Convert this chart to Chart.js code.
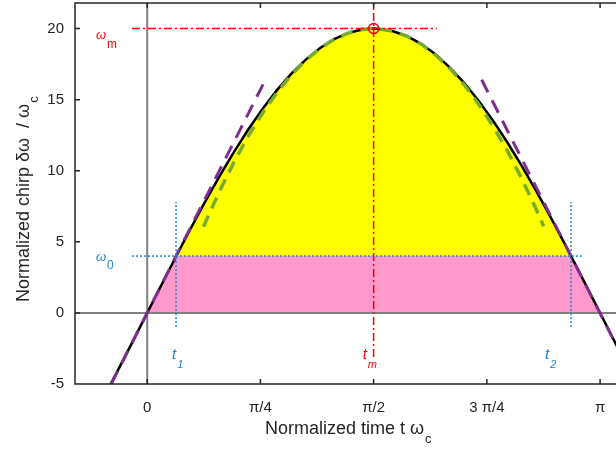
<!DOCTYPE html>
<html>
<head>
<meta charset="utf-8">
<script src="https://cdn.jsdelivr.net/npm/chart.js@4/dist/chart.umd.min.js"></script>
<style>
  html, body { margin: 0; padding: 0; background: #fff; overflow: hidden; }
  #wrap { width: 616px; height: 450px; }
</style>
</head>
<body>
<div id="wrap"><canvas id="chirpChart"></canvas></div>
<script>
// chirp curve
const curveX = [-0.3, -0.2, -0.1, 0, 0.1, 0.2, 0.3, 0.4, 0.5, 0.6, 0.7, 0.8, 0.9, 1.0, 1.1, 1.2, 1.3, 1.4, 1.5, 1.571,
  1.6, 1.7, 1.8, 1.9, 2.0, 2.1, 2.2, 2.3, 2.4, 2.5, 2.6, 2.7, 2.8, 2.9, 3.0, 3.1, 3.2, 3.3];
const curveY = [-5.91, -3.97, -2.0, 0, 2.0, 3.97, 5.91, 7.79, 9.59, 11.29, 12.88, 14.35, 15.67, 16.83, 17.82, 18.64, 19.27, 19.71, 19.95, 20,
  19.99, 19.83, 19.48, 18.93, 18.19, 17.26, 16.17, 14.91, 13.51, 11.97, 10.31, 8.55, 6.70, 4.79, 2.82, 0.83, -1.17, -3.16];

// yellow area above omega0
const yellowX = [0.2, 0.3, 0.4, 0.5, 0.6, 0.7, 0.8, 0.9, 1.0, 1.1, 1.2, 1.3, 1.4, 1.5, 1.571,
  1.6, 1.7, 1.8, 1.9, 2.0, 2.1, 2.2, 2.3, 2.4, 2.5, 2.6, 2.7, 2.8, 2.9, 2.94];
const yellowY = [4.0, 5.91, 7.79, 9.59, 11.29, 12.88, 14.35, 15.67, 16.83, 17.82, 18.64, 19.27, 19.71, 19.95, 20,
  19.99, 19.83, 19.48, 18.93, 18.19, 17.26, 16.17, 14.91, 13.51, 11.97, 10.31, 8.55, 6.70, 4.79, 4.0];

// pink area below omega0
const pinkX = [0, 0.2, 2.94, 3.1416];
const pinkY = [0, 4, 4, 0];

// green parabola approximation near the top
const greenX = [0.39, 0.5, 0.6, 0.7, 0.8, 0.9, 1.0, 1.1, 1.2, 1.3, 1.4, 1.5, 1.571,
  1.6, 1.7, 1.8, 1.9, 2.0, 2.1, 2.2, 2.3, 2.4, 2.5, 2.6, 2.7, 2.75];
const greenY = [6.06, 8.53, 10.57, 12.42, 14.06, 15.50, 16.74, 17.78, 18.63, 19.27, 19.71, 19.95, 20,
  19.99, 19.83, 19.48, 18.92, 18.16, 17.20, 16.04, 14.68, 13.12, 11.37, 9.41, 7.25, 6.10];

// purple linear approximations
const purpleLeftX = [-0.25, 0.82];
const purpleLeftY = [-5.0, 16.4];
const purpleRightX = [2.32, 3.4];
const purpleRightY = [16.4, -5.2];

// marker lines
const omegaM = 20, tm = 1.5708;
const omegaMLineX = [-0.106, 2.01];
const tmLineY = [-3.1, 22];
const omega0 = 4, t1 = 0.2, t2 = 2.94;
const omega0LineX = [-0.106, 3.014];
const tLineY = [-1.0, 7.8];

// axes
const xTickVals = [0, 0.7854, 1.5708, 2.3562, 3.1416];
const xTickLabels = ["0", "π/4", "π/2", "3 π/4", "π"];
const yTickVals = [-5, 0, 5, 10, 15, 20];
const xMin = -0.501, xMax = 3.252, yMin = -5, yMax = 21.8;

const pts = (xs, ys) => xs.map((x, i) => ({ x: x, y: ys[i] }));
const FONT = "'Liberation Sans', Arial, sans-serif";
const BLUE = "#1f80d0", RED = "#ff0000", PURPLE = "#7e2f8e", GREEN = "#77ac30";

function lineDs(data, color, width, dash, order) {
  return { data: data, borderColor: color, borderWidth: width, borderDash: dash, pointRadius: 0,
    fill: false, tension: 0, order: order };
}

const decorPlugin = {
  id: "decor",
  afterDraw(chart) {
    const ctx = chart.ctx, a = chart.chartArea;
    const xs = chart.scales.x, ys = chart.scales.y;
    ctx.save();
    // box + inward ticks
    ctx.strokeStyle = "#262626";
    ctx.lineWidth = 1.5;
    ctx.beginPath();
    ctx.moveTo(a.right + 2, a.top); ctx.lineTo(a.left, a.top);
    ctx.lineTo(a.left, a.bottom); ctx.lineTo(a.right + 2, a.bottom);
    xTickVals.forEach(v => {
      const p = xs.getPixelForValue(v);
      ctx.moveTo(p, a.bottom); ctx.lineTo(p, a.bottom - 5);
      ctx.moveTo(p, a.top); ctx.lineTo(p, a.top + 5);
    });
    yTickVals.forEach(v => {
      const p = ys.getPixelForValue(v);
      ctx.moveTo(a.left, p); ctx.lineTo(a.left + 5, p);
    });
    ctx.stroke();

    const sub = (main, s, x, y, color, mf, sf, dy) => {
      ctx.fillStyle = color;
      ctx.textAlign = "left";
      ctx.textBaseline = "middle";
      ctx.font = mf;
      ctx.fillText(main, x, y);
      const w = ctx.measureText(main).width;
      ctx.font = sf;
      ctx.fillText(s, x + w + 1, y + dy);
    };
    // annotations
    sub("ω", "m", a.left + 21, ys.getPixelForValue(omegaM) + 7, RED, "italic 13px " + FONT, "12px " + FONT, 9);
    sub("ω", "0", a.left + 21, ys.getPixelForValue(omega0) + 1, BLUE, "italic 13px " + FONT, "12px " + FONT, 9);
    const ty = a.bottom - 29;
    sub("t", "1", xs.getPixelForValue(t1) - 4, ty, BLUE, "italic 15px " + FONT, "italic 11px " + FONT, 10);
    sub("t", "m", xs.getPixelForValue(tm) - 11, ty, RED, "italic 15px " + FONT, "italic 11px " + FONT, 10);
    sub("t", "2", xs.getPixelForValue(t2) - 26, ty, BLUE, "italic 15px " + FONT, "italic 11px " + FONT, 10);

    // axis titles
    sub("Normalized time t ω", "c", 265, 429, "#262626", "18px " + FONT, "13px " + FONT, 10);
    ctx.translate(24, 302);
    ctx.rotate(-Math.PI / 2);
    sub("Normalized chirp δω  / ω", "c", 0, 0, "#262626", "18px " + FONT, "13px " + FONT, 10);
    ctx.restore();
  }
};

new Chart(document.getElementById("chirpChart"), {
  type: "line",
  data: {
    datasets: [
      { data: [{ x: tm, y: omegaM }], showLine: false, pointRadius: 5, pointStyle: "circle",
        pointBorderColor: RED, pointBackgroundColor: "rgba(0,0,0,0)", pointBorderWidth: 1.5, order: 0 },
      lineDs(pts(omega0LineX, [omega0, omega0]), BLUE, 1.5, [2, 2], 1),
      lineDs(pts([t1, t1], tLineY), BLUE, 1.5, [2, 2], 1),
      lineDs(pts([t2, t2], tLineY), BLUE, 1.5, [2, 2], 1),
      lineDs(pts(omegaMLineX, [omegaM, omegaM]), RED, 1.5, [8, 3, 2, 3], 2),
      lineDs(pts([tm, tm], tmLineY), RED, 1.5, [8, 3, 2, 3], 2),
      lineDs(pts(purpleLeftX, purpleLeftY), PURPLE, 3, [14, 9], 3),
      lineDs(pts(purpleRightX, purpleRightY), PURPLE, 3, [14, 9], 3),
      lineDs(pts(greenX, greenY), GREEN, 3.5, [12, 8], 4),
      lineDs(pts(curveX, curveY), "#000000", 2.5, [], 5),
      lineDs(pts([xMin, xMax], [0, 0]), "#808080", 2, [], 6),
      lineDs(pts([0, 0], [yMin, yMax]), "#808080", 2, [], 6),
      { data: pts(yellowX, yellowY), borderWidth: 0, pointRadius: 0, backgroundColor: "#ffff00",
        fill: { value: omega0 }, tension: 0, order: 7 },
      { data: pts(pinkX, pinkY), borderWidth: 0, pointRadius: 0, backgroundColor: "#ff99cc",
        fill: "origin", tension: 0, order: 8 }
    ]
  },
  options: {
    responsive: true,
    maintainAspectRatio: false,
    animation: false,
    layout: { autoPadding: false, padding: { top: 3, left: 0, right: 0, bottom: 0 } },
    plugins: { legend: { display: false }, tooltip: { enabled: false } },
    scales: {
      x: {
        type: "linear", min: xMin, max: xMax,
        grid: { display: false }, border: { display: false },
        afterBuildTicks: s => { s.ticks = xTickVals.map(v => ({ value: v })); },
        afterFit: s => { s.height = 66; s.paddingLeft = 0; s.paddingRight = 0; },
        ticks: { padding: 7, color: "#262626", font: { size: 15, family: FONT },
          maxRotation: 0, callback: (v, i) => xTickLabels[i] }
      },
      y: {
        min: yMin, max: yMax,
        grid: { display: false }, border: { display: false },
        afterBuildTicks: s => { s.ticks = yTickVals.map(v => ({ value: v })); },
        afterFit: s => { s.width = 75; s.paddingTop = 0; s.paddingBottom = 0; },
        ticks: { padding: 3, color: "#262626", font: { size: 15, family: FONT } }
      }
    }
  },
  plugins: [decorPlugin]
});
</script>
</body>
</html>
